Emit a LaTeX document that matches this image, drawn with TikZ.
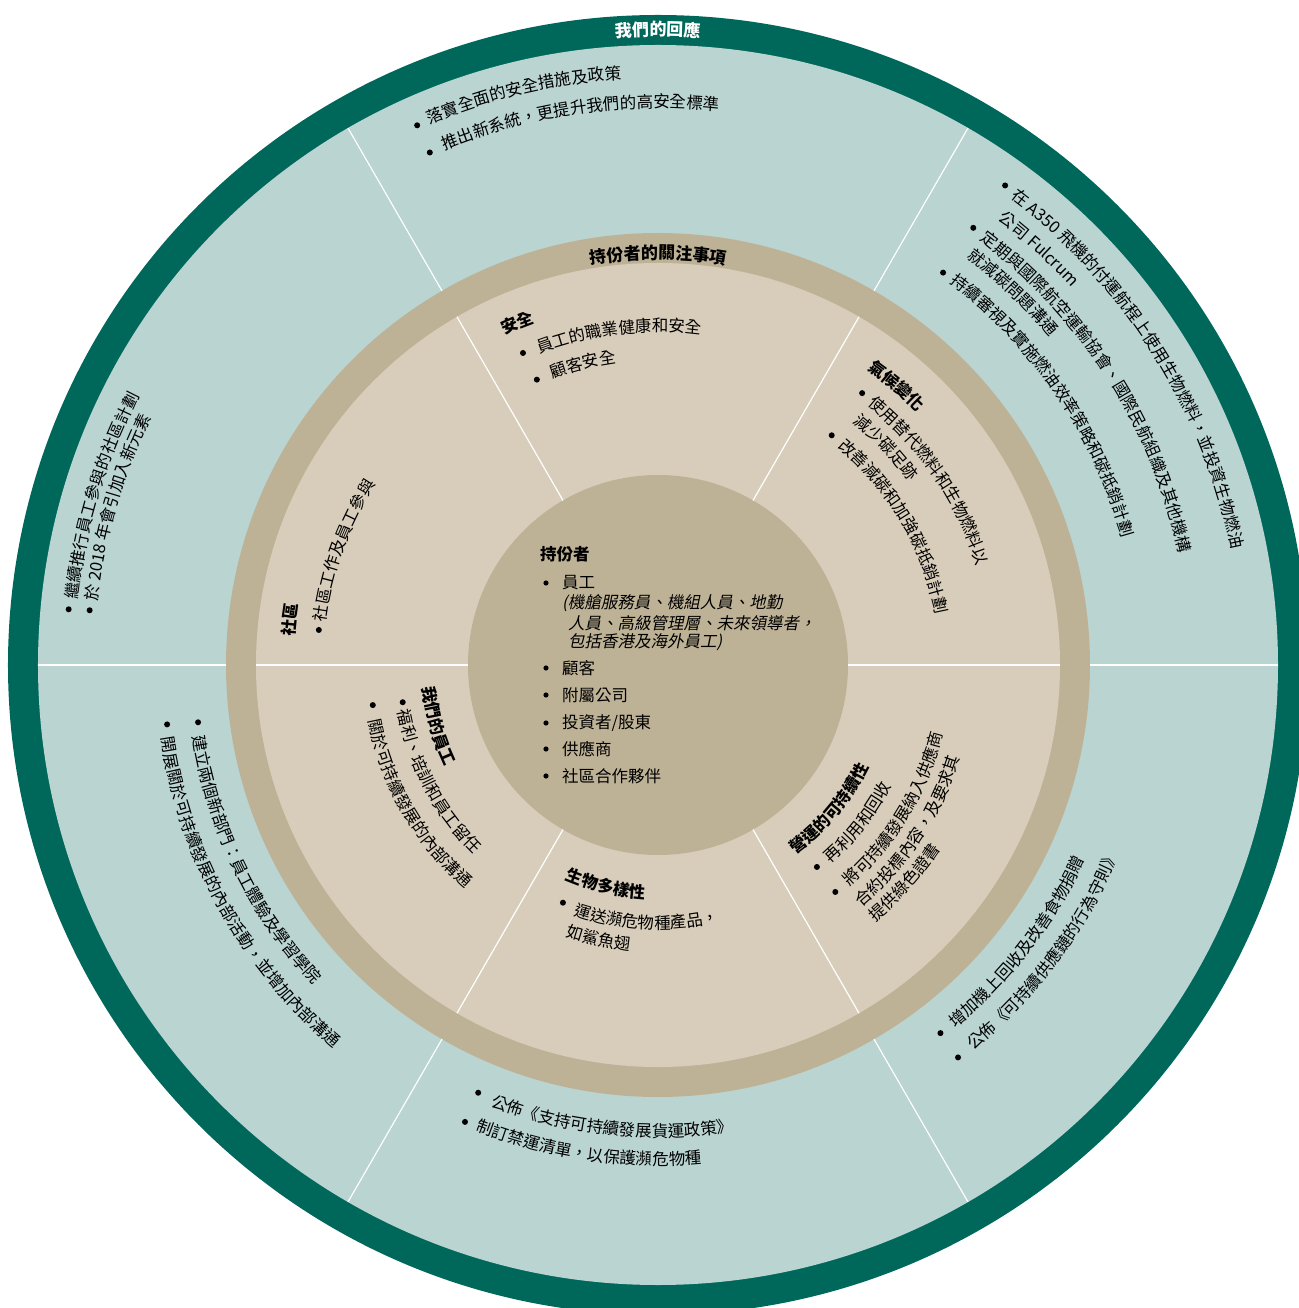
\documentclass[tikz,border=0pt]{standalone}
\usepackage{fontspec}
\usepackage{xcolor}
\usepackage{tikz}
\usetikzlibrary{decorations.text,positioning}

\newfontfamily\cjk{Noto Sans CJK TC}
\newfontfamily\cjkit{Noto Sans CJK TC}[FakeSlant=0.2]
\newcommand{\bodyfont}{\cjk\fontsize{16.5}{20}\selectfont}
\newcommand{\headfont}{\cjk\bfseries\fontsize{16.5}{20}\selectfont}
\newcommand{\ringfont}{\cjk\bfseries\fontsize{17}{20}\selectfont}
\newcommand{\itfont}{\cjkit\fontsize{16.5}{20}\selectfont}

\definecolor{ringgreen}{RGB}{0,104,90}
\definecolor{respteal}{RGB}{185,212,209}
\definecolor{concerntan}{RGB}{190,178,150}
\definecolor{concernbeige}{RGB}{216,205,186}

% text on an arc: [font]{radius of glyph centres}{angle of first glyph}{text}
% clockwise = tops outwards, counter-clockwise = tops inwards
\newcommand{\cwtext}[4][\bodyfont]{%
  \path[decorate, decoration={text along path, text={|#1|#4}}]
    ({#3+8.25*57.2958/(#2-6)}:{#2-6})
    arc[start angle={#3+8.25*57.2958/(#2-6)}, delta angle=-120, radius={#2-6}];}
\newcommand{\ccwtext}[4][\bodyfont]{%
  \path[decorate, decoration={text along path, text={|#1|#4}}]
    ({#3-8.25*57.2958/(#2+6)}:{#2+6})
    arc[start angle={#3-8.25*57.2958/(#2+6)}, delta angle=120, radius={#2+6}];}

\begin{document}
\begin{tikzpicture}[x=1pt, y=1pt,
    divider/.style={white, line width=1.2pt},
    listtext/.style={anchor=west, inner sep=0pt, font=\bodyfont}]
    \useasboundingbox (-658,-643) rectangle (640,665);

    % Rings
    \fill[ringgreen] (0,0) circle (650);
    \fill[respteal] (0,0) circle (620);
    \fill[concerntan] (0,0) circle (432);
    \fill[concernbeige] (0,0) circle (402);
    \fill[concerntan] (0,0) circle (190);
    \foreach \a in {0,60,...,300} {
        \draw[divider] (\a:432) -- (\a:620);
        \draw[divider] (\a:190) -- (\a:402);
    }

    % Ring titles
    \path[decorate, decoration={text along path, text={|\ringfont|我們的回應},
        text color=white, text align=center}]
        (115:629) arc[start angle=115, end angle=65, radius=629];
    \path[decorate, decoration={text along path, text={|\ringfont|持份者的關注事項},
        text align=center}]
        (125:406) arc[start angle=125, end angle=55, radius=406];

    % Our response
    \cwtext{593}{112.1}{落實全面的安全措施及政策}
    \cwtext{563}{111.7}{推出新系統，更提升我們的高安全標準}
    \cwtext{591}{52.2}{在 A350 飛機的付運航程上使用生物燃料，並投資生物燃油}
    \cwtext{566}{51.8}{公司 Fulcrum}
    \cwtext{539}{52.0}{定期與國際航空運輸協會、國際民航組織及其他機構}
    \cwtext{517}{51.9}{就減碳問題溝通}
    \cwtext{487}{51.7}{持續審視及實施燃油效率策略和碳抵銷計劃}
    \ccwtext{463}{-49.7}{增加機上回收及改善食物捐贈}
    \ccwtext{492}{-49.8}{公佈《可持續供應鏈的行為守則》}
    \ccwtext{466}{250.2}{公佈《支持可持續發展貨運政策》}
    \ccwtext{494}{249.5}{制訂禁運清單，以保護瀕危物種}
    \ccwtext{464.5}{189.7}{建立兩個新部門：員工體驗及學習學院}
    \ccwtext{496}{189.3}{開展關於可持續發展的內部活動，並增加內部溝通}
    \cwtext{590}{172.8}{繼續推行員工參與的社區計劃}
    \cwtext{570}{172.7}{於 2018 年會引加入新元素}

    % Stakeholder concerns
    \cwtext[\headfont]{370}{113.6}{安全}
    \cwtext{339}{109.5}{員工的職業健康和安全}
    \cwtext{311}{108.7}{顧客安全}
    \cwtext[\headfont]{368}{53.4}{氣候變化}
    \cwtext{340}{49.8}{使用替代燃料和生物燃料以}
    \cwtext{317}{49.7}{減少碳足跡}
    \cwtext{288}{48.9}{改善減碳和加強碳抵銷計劃}
    \cwtext[\headfont]{371}{174.3}{社區}
    \cwtext{341}{171.25}{社區工作及員工參與}
    \ccwtext[\headfont]{230}{187.5}{我們的員工}
    \ccwtext{258}{191.8}{福利、培訓和員工留任}
    \ccwtext{289}{192.4}{關於可持續發展的內部溝通}
    \ccwtext[\headfont]{228}{248.6}{生物多樣性}
    \ccwtext{258}{253.1}{運送瀕危物種產品，}
    \ccwtext{281}{252.8}{如鯊魚翅}
    \ccwtext[\headfont]{228}{-52.1}{營運的可持續性}
    \ccwtext{257}{-47.1}{再利用和回收}
    \ccwtext{287}{-47.5}{將可持續發展納入供應商}
    \ccwtext{310}{-48.5}{合約投標內容，及要求其}
    \ccwtext{331}{-48.4}{提供綠色證書}

    % Bullets on the arcs
    \foreach \a/\r in {114.05/591, 114/561, 54.1/592, 54.2/539, 54/485,
        -52.5/464, -52.6/494, 247.2/464, 247.1/496, 187.1/463.5, 186.9/494.5,
        174.6/592, 174.5/571, 113.4/340, 113/310, 53.1/340, 52.9/288,
        174.1/341, 188.3/258, 188/288, 248.2/256, -51.8/257, -52/288}
        \fill (\a:\r) circle (3);

    % Stakeholders
    \node[anchor=west, inner sep=0pt, font=\headfont] (stake) at (-118,111) {持份者};
    \node[listtext] (staff) at (-96,82) {員工};
    \node[listtext, font=\itfont] (staffa) at (-96,62) {(機艙服務員、機組人員、地勤};
    \node[listtext, font=\itfont] (staffb) at (-90,42) {人員、高級管理層、未來領導者，};
    \node[listtext, font=\itfont] (staffc) at (-90,23) {包括香港及海外員工)};
    \node[listtext] (cust) at (-96,-3) {顧客};
    \node[listtext] (subs) at (-96,-30) {附屬公司};
    \node[listtext] (inv) at (-96,-58) {投資者/股東};
    \node[listtext] (supp) at (-96,-84) {供應商};
    \node[listtext] (comm) at (-96,-111) {社區合作夥伴};
    \foreach \n in {staff,cust,subs,inv,supp,comm}
        \fill (-112,0 |- \n.west) circle (2.6);
\end{tikzpicture}
\end{document}
